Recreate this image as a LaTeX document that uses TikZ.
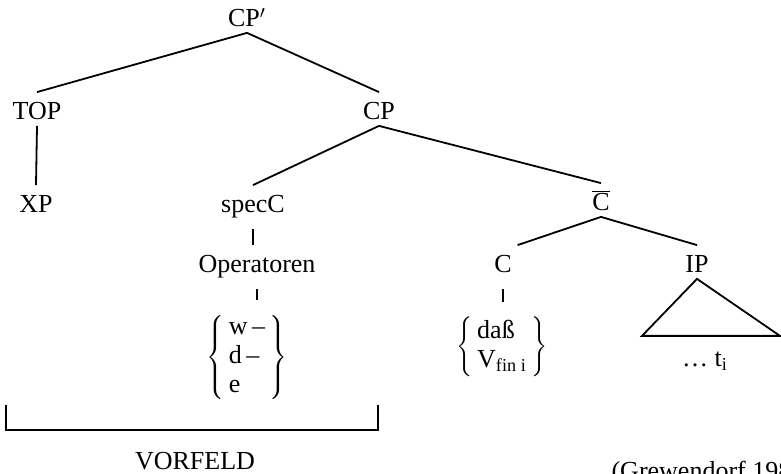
\documentclass[tikz,border=0pt]{standalone}
\usepackage{fontspec}
\setmainfont{Liberation Serif}
\begin{document}
\begin{tikzpicture}[x=0.5pt, y=-0.5pt, line width=0.9pt,
    every node/.style={font=\fontsize{13}{14.5}\selectfont},
    cat/.style={anchor=base, inner sep=2.5pt, text height=11pt, text depth=0pt},
    low/.style={cat, text depth=5pt},
    grp/.style={inner sep=7pt}]

    \useasboundingbox (0,0) rectangle (781,474);

    % Categories
    \node[cat] (cpp) at (247,27) {CP$'$};
    \node[cat] (top) at (37,120) {TOP};
    \node[cat] (cp) at (379,120) {CP};
    \node[cat] (xp) at (36,213) {XP};
    \node[low] (specc) at (253,213) {specC};
    \node[cat] (cbar) at (601,211) {$\overline{\mbox{C}}$};
    \node[low] (oper) at (257,273) {Operatoren};
    \node[low] (c) at (503,273) {C};
    \node[cat] (ip) at (697,273) {IP};

    % Bracketed lists
    \node[grp] (opgrp) at (247,358) {$\left\{\begin{tabular}{@{\,}l@{\,}}w\,--\\d\,--\\e\end{tabular}\right\}$};
    \node[grp] (dass) at (502,347) {$\left\{\begin{tabular}{@{\,}l@{\,}}daß\\V\textsubscript{fin i}\end{tabular}\right\}$};
    \node[cat] (trace) at (705,367) {\dots\ t\textsubscript{i}};

    % Branches
    \draw (cpp.south) -- (top.north);
    \draw (cpp.south) -- (cp.north);
    \draw (top.south) -- (xp.north);
    \draw (cp.south) -- (specc.north);
    \draw (cp.south) -- (cbar.north);
    \draw (specc.south) -- (specc.south |- oper.north);
    \draw (oper.south) -- (oper.south |- opgrp.north);
    \draw (cbar.south) -- (c.north east);
    \draw (cbar.south) -- (ip.north);
    \draw (c.south) -- (c.south |- dass.north);
    \draw (ip.south) -- ++(-55,57) -- ++(138,0) -- cycle; % IP triangle

    % Vorfeld
    \draw (6,405) -- (6,430) -- (378,430) -- (378,405);
    \node[cat] (vf) at (195,470) {VORFELD};
    \node[anchor=base west] (src) at (604,480) {(Grewendorf 1988)};
\end{tikzpicture}
\end{document}
